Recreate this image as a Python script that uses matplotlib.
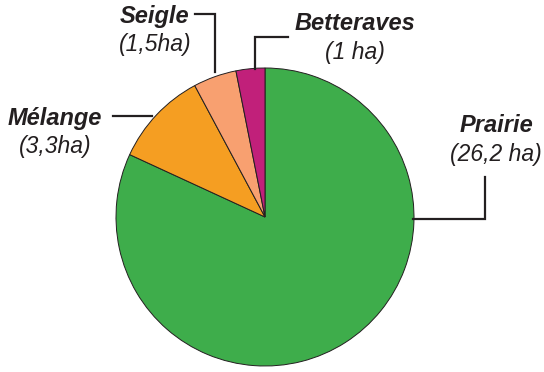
import matplotlib.pyplot as plt

labels = ['Prairie', 'Mélange', 'Seigle', 'Betteraves']
areas = [26.2, 3.3, 1.5, 1.0]
area_text = ['(26,2 ha)', '(3,3ha)', '(1,5ha)', '(1 ha)']
colors = ['#3ead4b', '#f59e22', '#f8a070', '#c1207a']

W, H = 544, 372
fig = plt.figure(figsize=(W / 100, H / 100), dpi=100)
ax = fig.add_axes([0, 0, 1, 1])

cx, cy, r = 265, H - 217, 149
ax.pie(areas, colors=colors, startangle=90, counterclock=False,
       center=(cx, cy), radius=r, frame=True,
       wedgeprops=dict(edgecolor='#231f20', linewidth=0.7))
ax.set_xlim(0, W)
ax.set_ylim(0, H)
ax.set_aspect('equal')
ax.axis('off')

txt = '#231f20'
# name / value positions in pixels (x, y of name, y of value)
pos = {
    'Prairie': (496, 126, 154),
    'Mélange': (55, 118, 147),
    'Seigle': (155, 16, 45),
    'Betteraves': (355, 23, 52),
}
for name, val in zip(labels, area_text):
    x, y1, y2 = pos[name]
    ax.text(x, H - y1, name, ha='center', va='center', fontsize=17,
            fontweight='bold', fontstyle='italic', color=txt,
            family='Liberation Sans')
    ax.text(x, H - y2, val, ha='center', va='center', fontsize=16.5,
            fontstyle='italic', color=txt, family='Liberation Sans')

# leader lines
leaders = [
    ([195, 215, 215], [14, 14, 72]),
    ([288, 255, 255], [37, 37, 69]),
    ([113, 152], [116, 116]),
    ([413, 485, 485], [219, 219, 177]),
]
for xs, ys in leaders:
    ax.plot(xs, [H - v for v in ys], color=txt, lw=1.6,
            solid_joinstyle='miter')

fig.savefig('out.png', dpi=100)
